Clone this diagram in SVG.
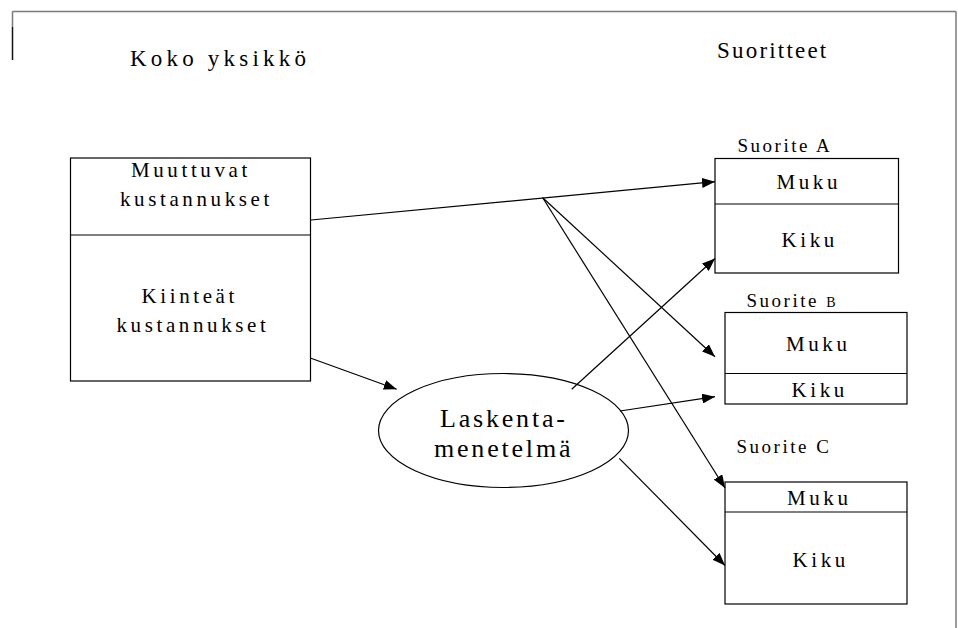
<svg xmlns="http://www.w3.org/2000/svg" width="958" height="628" viewBox="0 0 958 628">
  <style>
    .frame { stroke: #7a7a7a; stroke-width: 1.5; fill: none; }
    .box { fill: #ffffff; stroke: #000000; stroke-width: 1.2; }
    .div { stroke: #000000; stroke-width: 1.2; }
    .t { font-family: "Liberation Serif", "Times New Roman", serif; fill: #000000; }
    .head { font-size: 23px; letter-spacing: 4.2px; }
    .head-tight { font-size: 23px; letter-spacing: 2.2px; }
    .lbl { font-size: 21px; letter-spacing: 3.6px; }
    .cap { font-size: 19px; letter-spacing: 2.5px; }
    .ell { font-size: 26px; letter-spacing: 2.8px; }
    .conn line { stroke: #000000; stroke-width: 1.2; marker-end: url(#arrow); }
  </style>
  <defs>
    <marker id="arrow" markerUnits="userSpaceOnUse" markerWidth="14" markerHeight="10" refX="13" refY="5" orient="auto">
      <path d="M0,0 L13,5 L0,10 Z" fill="#000000"/>
    </marker>
  </defs>

  <rect width="958" height="628" fill="#ffffff"/>

  <!-- page frame -->
  <g id="frame">
    <line class="frame" x1="12.5" y1="11.5" x2="956" y2="11.5"/>
    <line class="frame" x1="956" y1="11.5" x2="956" y2="628"/>
    <line x1="12.5" y1="11.5" x2="12.5" y2="27" stroke="#7a7a7a" stroke-width="1.5"/>
    <line x1="12.5" y1="27" x2="12.5" y2="60" stroke="#111111" stroke-width="1.5"/>
  </g>

  <!-- column headings -->
  <g id="heading-unit">
    <text class="t head" x="130" y="65.5">Koko yksikkö</text>
  </g>
  <g id="heading-outputs">
    <text class="t head-tight" x="717" y="58">Suoritteet</text>
  </g>

  <!-- whole-unit cost box -->
  <g id="costs">
    <rect class="box" x="70.5" y="158" width="240" height="223"/>
    <line class="div" x1="70.5" y1="235" x2="310.5" y2="235"/>
    <text class="t lbl" x="131" y="177">Muuttuvat</text>
    <text class="t lbl" x="120" y="205.5">kustannukset</text>
    <text class="t lbl" x="141.5" y="302.5">Kiinteät</text>
    <text class="t lbl" x="116.5" y="331.5">kustannukset</text>
  </g>

  <!-- allocation method -->
  <g id="method">
    <ellipse class="box" cx="503.5" cy="430.5" rx="125" ry="57"/>
    <text class="t ell" x="440" y="427">Laskenta-</text>
    <text class="t ell" x="434" y="456.5">menetelmä</text>
  </g>

  <!-- output A -->
  <g id="output-a">
    <text class="t cap" x="737.5" y="151.5">Suorite A</text>
    <rect class="box" x="715" y="158.5" width="183.5" height="114.5"/>
    <line class="div" x1="715" y1="204" x2="898.5" y2="204"/>
    <text class="t lbl" x="776.5" y="189">Muku</text>
    <text class="t lbl" x="781.5" y="247">Kiku</text>
  </g>

  <!-- output B -->
  <g id="output-b">
    <text class="t cap" x="746.5" y="306.5">Suorite <tspan font-size="14px">B</tspan></text>
    <rect class="box" x="725" y="312.5" width="182" height="91.5"/>
    <line class="div" x1="725" y1="373.5" x2="907" y2="373.5"/>
    <text class="t lbl" x="786" y="351">Muku</text>
    <text class="t lbl" x="791.5" y="397">Kiku</text>
  </g>

  <!-- output C -->
  <g id="output-c">
    <text class="t cap" x="736.5" y="453">Suorite C</text>
    <rect class="box" x="725" y="482" width="182" height="122"/>
    <line class="div" x1="725" y1="512" x2="907" y2="512"/>
    <text class="t lbl" x="787" y="505">Muku</text>
    <text class="t lbl" x="792.5" y="566.5">Kiku</text>
  </g>

  <!-- connectors -->
  <g id="connectors" class="conn">
    <line x1="311" y1="220" x2="715" y2="181.7"/>
    <line x1="542.7" y1="197.8" x2="715" y2="356.7"/>
    <line x1="542.7" y1="197.8" x2="725" y2="488"/>
    <line x1="311" y1="358.3" x2="396.7" y2="389.3"/>
    <line x1="571.7" y1="389.3" x2="715" y2="258.5"/>
    <line x1="620" y1="411" x2="715" y2="396.7"/>
    <line x1="619.3" y1="458.3" x2="725" y2="565.5"/>
  </g>
</svg>
